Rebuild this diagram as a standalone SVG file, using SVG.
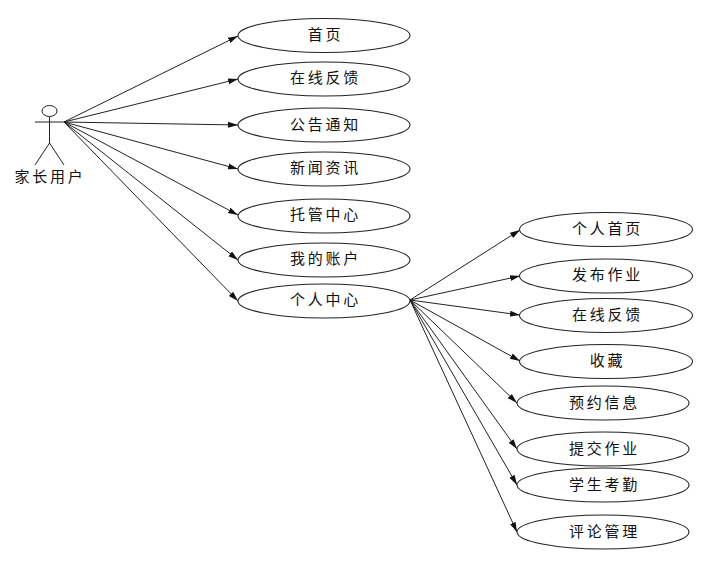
<svg xmlns="http://www.w3.org/2000/svg" width="704" height="563" viewBox="0 0 704 563">
<style>
.e{fill:#fff;stroke:#222;stroke-width:1.1}
.l{fill:none;stroke:#222;stroke-width:1}
.c{fill:none;stroke:#222;stroke-width:1;marker-end:url(#a)}
text{font-family:"Noto Sans CJK SC","Noto Sans",sans-serif;font-size:15px;letter-spacing:2.7px;text-anchor:middle;fill:#111}
</style>
<defs><marker id="a" markerUnits="userSpaceOnUse" markerWidth="12" markerHeight="8" refX="10" refY="4" orient="auto"><path d="M0 1L10 4L0 7Z" fill="#111"/></marker></defs>
<g id="connectors">
<path class="c" d="M64 122L238 36"/>
<path class="c" d="M64 122L238 79"/>
<path class="c" d="M64 122L238 125"/>
<path class="c" d="M64 122L238 169"/>
<path class="c" d="M64 122L238 215"/>
<path class="c" d="M64 122L238 260"/>
<path class="c" d="M64 122L238 301"/>
<path class="c" d="M410 300L520 230"/>
<path class="c" d="M410 300L520 276"/>
<path class="c" d="M410 300L520 315"/>
<path class="c" d="M410 300L520 361"/>
<path class="c" d="M410 300L517 403"/>
<path class="c" d="M410 300L517 449"/>
<path class="c" d="M410 300L517 485"/>
<path class="c" d="M410 300L517 532"/>
</g>
<g id="actor">
<ellipse class="l" cx="49.500" cy="111" rx="7.500" ry="5.500"/>
<path class="l" d="M49.500 117V143M35 122H64M49.500 143L35 165M49.500 143L64 165"/>
<text x="50" y="182">家长用户</text>
</g>
<g id="n1"><ellipse class="e" cx="324" cy="35.500" rx="86" ry="17"/><text x="325.500" y="40">首页</text></g>
<g id="n2"><ellipse class="e" cx="324" cy="79" rx="86" ry="17"/><text x="325.500" y="83">在线反馈</text></g>
<g id="n3"><ellipse class="e" cx="324" cy="125" rx="86" ry="17"/><text x="325.500" y="130">公告通知</text></g>
<g id="n4"><ellipse class="e" cx="324" cy="169" rx="86" ry="17"/><text x="325.500" y="173">新闻资讯</text></g>
<g id="n5"><ellipse class="e" cx="324" cy="216" rx="86" ry="17"/><text x="325.500" y="220">托管中心</text></g>
<g id="n6"><ellipse class="e" cx="324" cy="260" rx="86" ry="17"/><text x="325.500" y="264">我的账户</text></g>
<g id="n7"><ellipse class="e" cx="324" cy="301" rx="86" ry="17"/><text x="325.500" y="305">个人中心</text></g>
<g id="m1"><ellipse class="e" cx="606" cy="229.500" rx="86.500" ry="17"/><text x="607.500" y="234">个人首页</text></g>
<g id="m2"><ellipse class="e" cx="606" cy="276" rx="86.500" ry="17"/><text x="607.500" y="280">发布作业</text></g>
<g id="m3"><ellipse class="e" cx="606" cy="315.500" rx="86.500" ry="17"/><text x="607.500" y="320">在线反馈</text></g>
<g id="m4"><ellipse class="e" cx="606" cy="361.500" rx="86.500" ry="17"/><text x="607.500" y="366">收藏</text></g>
<g id="m5"><ellipse class="e" cx="603" cy="403" rx="86" ry="17"/><text x="604.500" y="408">预约信息</text></g>
<g id="m6"><ellipse class="e" cx="603" cy="449" rx="86" ry="17"/><text x="604.500" y="454">提交作业</text></g>
<g id="m7"><ellipse class="e" cx="603" cy="485" rx="86" ry="17"/><text x="604.500" y="490">学生考勤</text></g>
<g id="m8"><ellipse class="e" cx="603" cy="532" rx="86" ry="17"/><text x="604.500" y="537">评论管理</text></g>
</svg>
